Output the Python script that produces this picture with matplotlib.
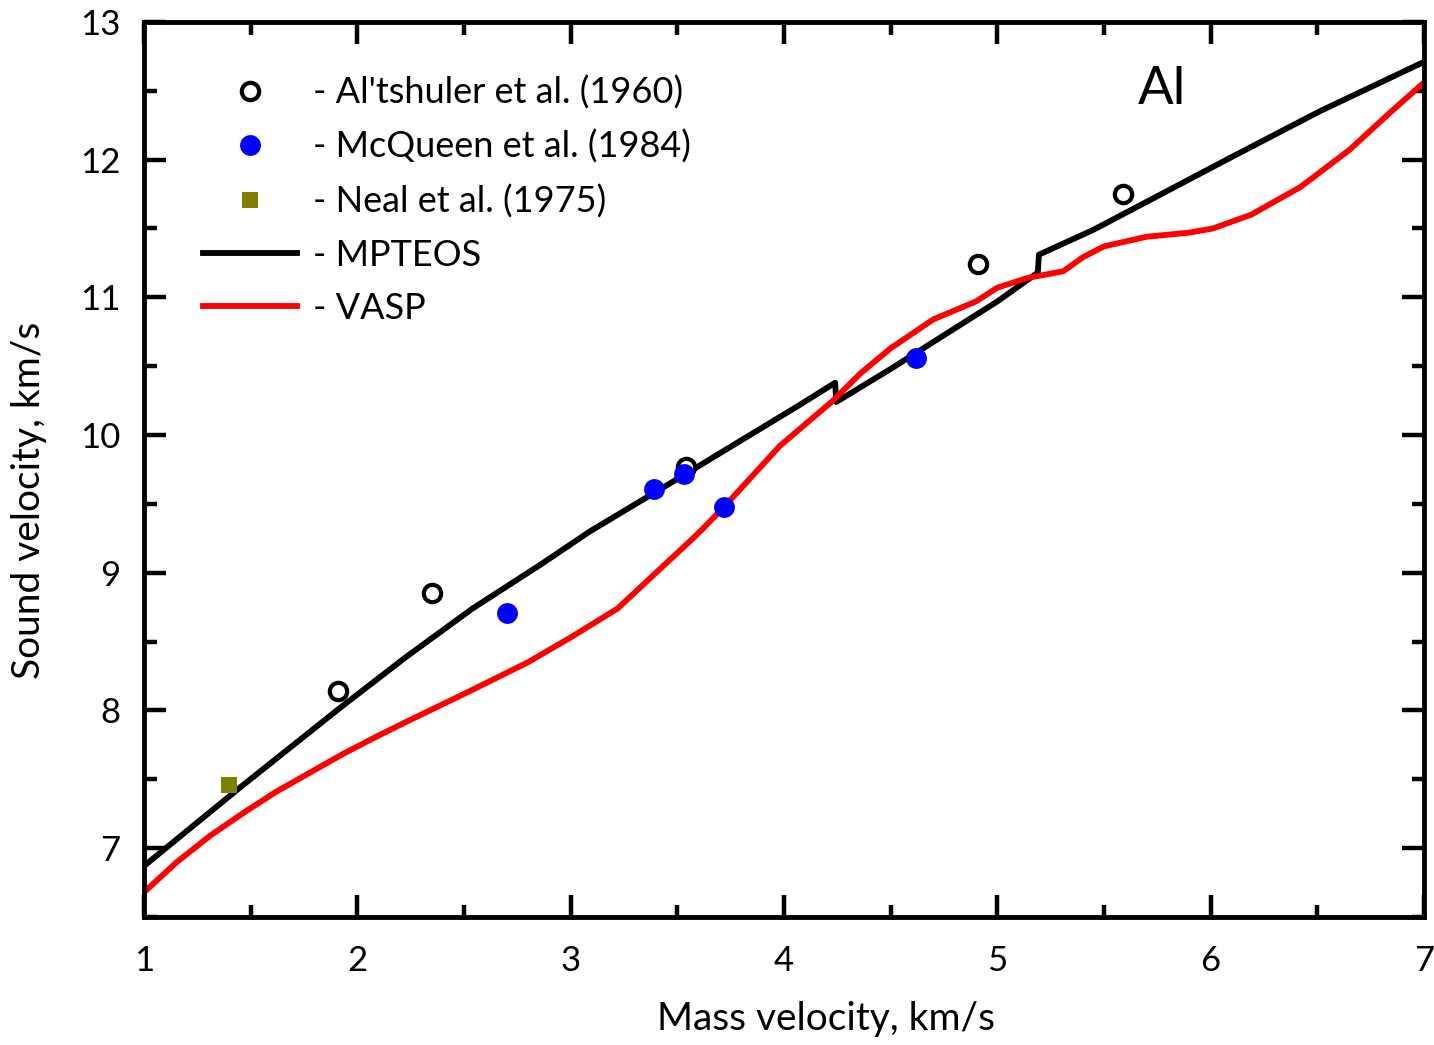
import matplotlib
matplotlib.use('Agg')
import matplotlib.pyplot as plt

plt.rcParams['font.family'] = ['Lato', 'DejaVu Sans']

# Experimental points
altshuler_u = [1.91, 2.35, 3.54, 4.91, 5.59]
altshuler_c = [8.14, 8.85, 9.77, 11.24, 11.75]

mcqueen_u = [2.70, 3.39, 3.53, 3.72, 4.62]
mcqueen_c = [8.71, 9.61, 9.72, 9.48, 10.56]

neal_u = [1.40]
neal_c = [7.46]

# MPTEOS curve (with the two jumps)
mpteos_u = [1.0, 1.45, 1.92, 2.23, 2.54, 2.86, 3.09, 3.51, 4.075, 4.24, 4.245,
            4.5, 5.0, 5.19, 5.195, 5.45, 6.10, 6.51, 7.0]
mpteos_c = [6.87, 7.44, 8.02, 8.39, 8.74, 9.06, 9.30, 9.69, 10.22, 10.38, 10.24,
            10.48, 10.97, 11.18, 11.31, 11.49, 12.02, 12.35, 12.71]

# VASP curve
vasp_u = [1.0, 1.155, 1.31, 1.47, 1.62, 1.78, 1.94, 2.09, 2.22, 2.38, 2.54, 2.80, 3.0,
          3.22, 3.40, 3.56, 3.62, 3.72, 3.98, 4.23, 4.36, 4.50, 4.70, 4.90, 5.0,
          5.14, 5.31, 5.40, 5.50, 5.70, 5.90, 6.01, 6.19, 6.42, 6.65, 6.84, 7.0]
vasp_c = [6.68, 6.90, 7.09, 7.26, 7.41, 7.55, 7.69, 7.81, 7.91, 8.03, 8.15, 8.35, 8.53,
          8.74, 9.00, 9.23, 9.32, 9.48, 9.92, 10.25, 10.45, 10.63, 10.84, 10.97, 11.07,
          11.14, 11.19, 11.29, 11.37, 11.44, 11.47, 11.50, 11.60, 11.80, 12.07, 12.34, 12.56]

fig = plt.figure(figsize=(14.34, 10.45), dpi=100)
ax = fig.add_axes([0.1004, 0.1225, 0.8926, 0.8565])

ax.plot(mpteos_u, mpteos_c, color='black', lw=4.2, label='- MPTEOS', zorder=2)
ax.plot(vasp_u, vasp_c, color='red', lw=4.2, label='- VASP', zorder=2)
ax.plot(altshuler_u, altshuler_c, 'o', ms=12.5, mfc='white', mec='black', mew=3,
        label="- Al'tshuler et al. (1960)", zorder=3)
ax.plot(mcqueen_u, mcqueen_c, 'o', ms=15, mfc='blue', mec='blue', mew=0,
        label='- McQueen et al. (1984)', zorder=3)
ax.plot(neal_u, neal_c, 's', ms=11.5, mfc='olive', mec='olive', mew=0,
        label='- Neal et al. (1975)', zorder=3)

ax.set_xlim(1, 7)
ax.set_ylim(6.5, 13)
ax.set_xticks(range(1, 8))
ax.set_yticks(range(7, 14))
ax.set_xticks([x + 0.5 for x in range(1, 7)], minor=True)
ax.set_yticks([6.5 + y for y in range(0, 7)], minor=True)
ax.tick_params(which='both', direction='in', top=True, right=True, width=3.2, labelsize=25)
ax.tick_params(which='major', length=16)
ax.tick_params(which='minor', length=9)
ax.tick_params(axis='x', which='major', pad=20)
ax.tick_params(axis='y', which='major', pad=17)
for s in ax.spines.values():
    s.set_linewidth(3.5)

ax.set_xlabel('Mass velocity, km/s', fontsize=28)
ax.set_ylabel('Sound velocity, km/s', fontsize=28)
ax.xaxis.set_label_coords(0.533, -0.094)
ax.yaxis.set_label_coords(-0.076, 0.465)

ax.text(0.795, 0.924, 'Al', transform=ax.transAxes, fontsize=38, ha='center', va='center')

handles, labels = ax.get_legend_handles_labels()
order = [2, 3, 4, 0, 1]
ax.legend([handles[i] for i in order], [labels[i] for i in order], loc='upper left',
          bbox_to_anchor=(0.035, 0.956), frameon=False, fontsize=26,
          handlelength=2.6, handletextpad=0.45, labelspacing=0.56, borderaxespad=0)

plt.savefig('out.png', dpi=100)
